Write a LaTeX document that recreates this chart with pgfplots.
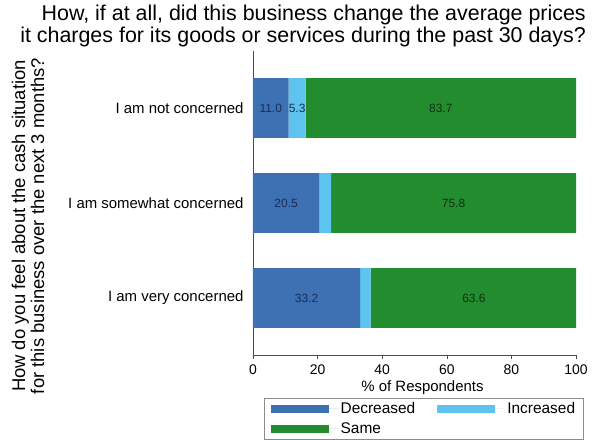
\documentclass[border=0pt]{standalone}
\usepackage{pgfplots}
\pgfplotsset{compat=1.18}
\usepackage{fontspec}
\setmainfont{Liberation Sans}
\definecolor{decblue}{RGB}{62,112,180}
\definecolor{incblue}{RGB}{92,196,238}
\definecolor{samegreen}{RGB}{34,140,46}
\definecolor{labnavy}{RGB}{25,45,90}
\definecolor{labgreen}{RGB}{15,50,18}

\begin{document}
\begin{tikzpicture}
\path[use as bounding box] (-253bp,-85bp) rectangle (342bp,355bp);
\begin{axis}[
    at={(0,0)}, anchor=south west, scale only axis,
    width=323bp, height=304bp,
    xbar stacked, bar width=0.63,
    xmin=0, xmax=100, ymin=-0.6, ymax=2.6,
    axis lines*=left,
    axis line style={black!70},
    ytick={0,1,2},
    yticklabels={I am very concerned, I am somewhat concerned, I am not concerned},
    ytick style={draw=none},
    xtick={0,20,...,100},
    tick align=outside, major tick length=4bp,
    xtick style={black!70},
    tick label style={font=\fontsize{14}{16}\selectfont},
    x tick label style={yshift=-2bp},
    y tick label style={font=\fontsize{15}{17}\selectfont, xshift=-2bp},
    /pgf/number format/assume math mode=true,
    xlabel={\% of Respondents},
    xlabel style={font=\fontsize{15}{17}\selectfont, yshift=1bp, xshift=8bp},
    legend columns=2,
    legend cell align=left,
    legend style={at={(0.529,-0.1414)}, anchor=north, draw=black!45,
        font=\fontsize{15.5}{17}\selectfont, inner xsep=6bp, inner ysep=2bp,
        row sep=4bp,
        /tikz/every even column/.append style={column sep=20bp}},
    legend image code/.code={\fill[#1] (0bp,-4bp) rectangle (58bp,4bp); \path (0bp,0bp) -- (68bp,0bp);},
]
\addplot[fill=decblue, draw=none] coordinates {(33.2,0) (20.5,1) (11.0,2)};
\addplot[fill=incblue, draw=none] coordinates {(3.2,0) (3.7,1) (5.3,2)};
\addplot[fill=samegreen, draw=none] coordinates {(63.6,0) (75.8,1) (83.7,2)};
\legend{Decreased, Increased, Same}
\end{axis}
\begin{axis}[
    at={(0,0)}, anchor=south west, scale only axis,
    width=323bp, height=304bp,
    xmin=0, xmax=100, ymin=-0.6, ymax=2.6,
    hide axis,
    nodes near coords, point meta=explicit symbolic,
    every node near coord/.append style={anchor=center, font=\fontsize{12}{14}\selectfont},
]
\addplot[draw=none, mark=none, nodes near coords style={labnavy}] coordinates {
    (16.6,0) [33.2] (10.25,1) [20.5] (5.5,2) [11.0] (13.65,2) [5.3]
};
\addplot[draw=none, mark=none, nodes near coords style={labgreen}] coordinates {
    (68.4,0) [63.6] (62.1,1) [75.8] (58.15,2) [83.7]
};
\end{axis}
\node[anchor=north east, align=right, inner sep=0pt, font=\fontsize{21.5}{22}\selectfont]
    at (333bp,350bp) {How, if at all, did this business change the average prices\\it charges for its goods or services during the past 30 days?};
\node[rotate=90, align=center, inner sep=0pt, font=\fontsize{18.5}{19}\selectfont]
    at (-225bp,129bp) {How do you feel about the cash situation\\for this business over the next 3 months?};
\end{tikzpicture}
\end{document}
